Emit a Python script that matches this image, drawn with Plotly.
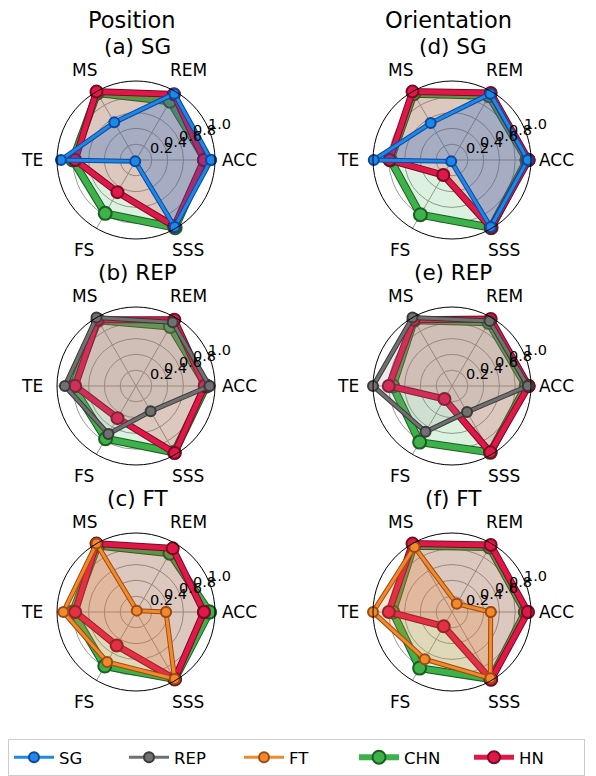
import math
import plotly.graph_objects as go

# ---------------- data ----------------
axis_labels = ["ACC", "REM", "MS", "TE", "FS", "SSS"]
axis_angles = [0, 60, 120, 180, 240, 300]
radial_ticks = [0.2, 0.4, 0.6, 0.8, 1.0]
radial_ticktext = ["0.2", "0.4", "0.6", "0.8", "1.0"]

# Position
pos_sg_SG = [0.95, 0.97, 0.55, 0.95, 0.02, 0.98]
pos_sg_CHN = [0.88, 0.86, 0.98, 0.80, 0.78, 0.99]
pos_sg_HN = [0.86, 0.96, 1.00, 0.77, 0.47, 0.97]
pos_rep_REP = [0.93, 0.93, 1.00, 0.90, 0.70, 0.37]
pos_rep_CHN = [0.89, 0.87, 0.96, 0.80, 0.77, 0.97]
pos_rep_HN = [0.87, 0.97, 0.97, 0.77, 0.47, 0.98]
pos_ft_FT = [0.38, 0.02, 1.00, 0.92, 0.73, 0.98]
pos_ft_CHN = [0.93, 0.86, 0.97, 0.80, 0.79, 0.98]
pos_ft_HN = [0.86, 0.93, 1.00, 0.77, 0.49, 0.98]

# Orientation
ori_sg_SG = [0.96, 0.97, 0.54, 0.99, 0.02, 0.98]
ori_sg_CHN = [0.95, 0.94, 0.97, 0.78, 0.80, 0.99]
ori_sg_HN = [0.97, 0.98, 1.00, 0.79, 0.22, 0.99]
ori_rep_REP = [0.96, 0.95, 1.00, 1.00, 0.67, 0.38]
ori_rep_CHN = [0.94, 0.93, 0.96, 0.75, 0.82, 0.97]
ori_rep_HN = [0.97, 0.98, 0.97, 0.80, 0.19, 0.97]
ori_ft_FT = [0.49, 0.12, 0.95, 1.00, 0.69, 0.97]
ori_ft_CHN = [0.93, 0.95, 0.97, 0.75, 0.82, 0.98]
ori_ft_HN = [0.96, 0.98, 1.00, 0.80, 0.21, 0.99]

column_titles = ["Position", "Orientation"]
panel_titles = [["(a) SG", "(b) REP", "(c) FT"], ["(d) SG", "(e) REP", "(f) FT"]]

# ---------------- styles ----------------
W, H = 596, 776
FONT = "DejaVu Sans"
style = {
    "SG": dict(color="#1E88E5", edge="#0D47A1", width=3, msize=10, fill="rgba(30,100,200,0.28)", rank=1),
    "REP": dict(color="#707070", edge="#3A3A3A", width=3, msize=10, fill="rgba(150,150,150,0.18)", rank=2),
    "FT": dict(color="#F08A2C", edge="#A04A10", width=3, msize=10, fill="rgba(240,130,50,0.22)", rank=3),
    "CHN": dict(color="#3DB14A", edge="#1B5E20", width=6, msize=13, fill="rgba(60,180,75,0.18)", rank=4),
    "HN": dict(color="#E0184A", edge="#7A0A24", width=5, msize=12, fill="rgba(220,40,60,0.20)", rank=5),
}

panels = [
    [("SG", pos_sg_SG, pos_sg_CHN, pos_sg_HN),
     ("REP", pos_rep_REP, pos_rep_CHN, pos_rep_HN),
     ("FT", pos_ft_FT, pos_ft_CHN, pos_ft_HN)],
    [("SG", ori_sg_SG, ori_sg_CHN, ori_sg_HN),
     ("REP", ori_rep_REP, ori_rep_CHN, ori_rep_HN),
     ("FT", ori_ft_FT, ori_ft_CHN, ori_ft_HN)],
]

col_cx = [136, 452]
row_cy = [160, 386, 612]
RAD = 79
LABEL_R = 104
TICK_ANG = math.radians(22.5)

fig = go.Figure()
annotations = []
legend_done = set()

k = 0
for c in range(2):
    for r in range(3):
        k += 1
        sub = "polar" if k == 1 else f"polar{k}"
        cx, cy = col_cx[c], row_cy[r]
        dom_x = [(cx - RAD) / W, (cx + RAD) / W]
        dom_y = [1 - (cy + RAD) / H, 1 - (cy - RAD) / H]
        fig.update_layout(**{sub: dict(
            domain=dict(x=dom_x, y=dom_y),
            bgcolor="white",
            radialaxis=dict(range=[0, 1.0], tickvals=radial_ticks, ticktext=radial_ticktext,
                            showticklabels=False, showline=False, ticks="",
                            gridcolor="#9a9a9a", gridwidth=1),
            angularaxis=dict(tickvals=axis_angles, ticktext=axis_labels, showticklabels=False,
                             direction="counterclockwise", rotation=0, ticks="",
                             gridcolor="#9a9a9a", gridwidth=1,
                             showline=True, linecolor="black", linewidth=1),
        )})
        method, mvals, chn, hn = panels[c][r]
        for name, vals in [("CHN", chn), ("HN", hn), (method, mvals)]:
            s = style[name]
            rr = list(vals) + [vals[0]]
            th = list(axis_angles) + [axis_angles[0]]
            fig.add_trace(go.Scatterpolar(
                r=rr, theta=th, subplot=sub, mode="lines", fill="toself",
                fillcolor=s["fill"], line=dict(color=s["edge"], width=s["width"] + 2),
                showlegend=False, hoverinfo="skip"))
            show = name not in legend_done
            legend_done.add(name)
            fig.add_trace(go.Scatterpolar(
                r=rr, theta=th, subplot=sub, mode="lines+markers", name=name,
                line=dict(color=s["color"], width=s["width"]),
                marker=dict(size=s["msize"], color=s["color"],
                            line=dict(color=s["edge"], width=2)),
                showlegend=show, legendrank=s["rank"]))
        # angular labels
        for lab, ang in zip(axis_labels, axis_angles):
            px = cx + LABEL_R * math.cos(math.radians(ang))
            py = cy - LABEL_R * math.sin(math.radians(ang))
            annotations.append(dict(x=px / W, y=1 - py / H, xref="paper", yref="paper",
                                    text=lab, showarrow=False, xanchor="center", yanchor="middle",
                                    font=dict(family=FONT, size=17, color="black")))
        # radial tick labels
        for t, tt in zip(radial_ticks, radial_ticktext):
            px = cx + t * RAD * math.cos(TICK_ANG)
            py = cy - t * RAD * math.sin(TICK_ANG)
            annotations.append(dict(x=px / W, y=1 - py / H, xref="paper", yref="paper",
                                    text=tt, showarrow=False, xanchor="left", yanchor="bottom",
                                    yshift=-3, xshift=-2, borderpad=0,
                                    font=dict(family=FONT, size=14.5, color="black")))
        # panel title
        annotations.append(dict(x=(cx + 1) / W, y=1 - (row_cy[r] - 114) / H, xref="paper", yref="paper",
                                text=panel_titles[c][r], showarrow=False, xanchor="center",
                                yanchor="middle", font=dict(family=FONT, size=21.5, color="black")))
    annotations.append(dict(x=(col_cx[c] - 4) / W, y=1 - 20 / H, xref="paper", yref="paper",
                            text=column_titles[c], showarrow=False, xanchor="center",
                            yanchor="middle", font=dict(family=FONT, size=22.5, color="black")))

fig.update_layout(
    width=W, height=H, margin=dict(l=0, r=0, t=0, b=0),
    paper_bgcolor="white", plot_bgcolor="white",
    font=dict(family=FONT, color="black"),
    annotations=annotations,
    legend=dict(orientation="h", x=8 / W, xanchor="left", y=0, yanchor="bottom",
                bordercolor="#cccccc", borderwidth=1, bgcolor="white",
                font=dict(family=FONT, size=16.5, color="black"),
                entrywidth=60, entrywidthmode="pixels", itemwidth=40),
)

fig.write_html("out.html", config={"displayModeBar": False},
               post_script="document.body.style.margin='0';document.body.style.overflow='hidden';")
